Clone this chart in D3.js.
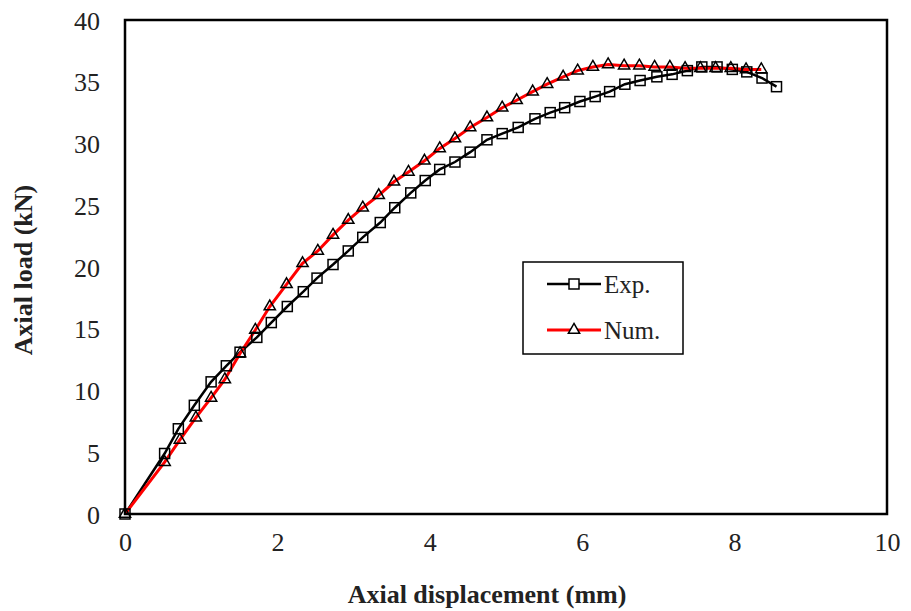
<!DOCTYPE html>
<meta charset="utf-8">
<style>
    body { margin: 0; background: white; }
</style>
<body>
<script src="https://d3js.org/d3.v7.min.js"></script>
<script>
    var width = 911,
        height = 611;
    var serif = "'Times New Roman', 'Liberation Serif', Tinos, serif";

    // experimental curve: [displacement mm, load kN]
    var expData = [
        [0, 0], [0.52, 4.9], [0.70, 6.9], [0.91, 8.8], [1.13, 10.7], [1.33, 12.0],
        [1.51, 13.1], [1.73, 14.3], [1.92, 15.5], [2.13, 16.8], [2.34, 18.0], [2.52, 19.1],
        [2.73, 20.2], [2.93, 21.3], [3.12, 22.4], [3.35, 23.6], [3.54, 24.8], [3.75, 26.0],
        [3.94, 27.0], [4.13, 27.9], [4.33, 28.5], [4.53, 29.3], [4.75, 30.3], [4.95, 30.8],
        [5.16, 31.3], [5.38, 32.0], [5.58, 32.5], [5.77, 32.9], [5.97, 33.4], [6.17, 33.8],
        [6.36, 34.2], [6.56, 34.8], [6.76, 35.1], [6.98, 35.4], [7.18, 35.6], [7.38, 35.9],
        [7.57, 36.2], [7.77, 36.2], [7.97, 36.0], [8.16, 35.8], [8.36, 35.3], [8.55, 34.6]
    ];

    // numerical curve
    var numData = [
        [0, 0], [0.52, 4.2], [0.72, 6.0], [0.93, 7.8], [1.13, 9.4], [1.31, 10.9],
        [1.51, 13.0], [1.71, 14.9], [1.90, 16.8], [2.12, 18.6], [2.33, 20.3], [2.53, 21.3],
        [2.73, 22.6], [2.93, 23.8], [3.12, 24.8], [3.33, 25.8], [3.53, 26.9], [3.72, 27.7],
        [3.93, 28.6], [4.13, 29.6], [4.33, 30.4], [4.53, 31.3], [4.75, 32.1], [4.95, 32.9],
        [5.14, 33.5], [5.35, 34.2], [5.54, 34.8], [5.75, 35.4], [5.94, 35.9], [6.14, 36.2],
        [6.34, 36.4], [6.55, 36.3], [6.75, 36.3], [6.95, 36.2], [7.15, 36.2], [7.35, 36.1],
        [7.55, 36.1], [7.75, 36.1], [7.95, 36.1], [8.15, 36.0], [8.35, 36.0]
    ];

    var xTicks = [0, 2, 4, 6, 8, 10];
    var yTicks = [0, 5, 10, 15, 20, 25, 30, 35, 40];
    var seriesNames = ["Exp.", "Num."];

    var x = d3.scaleLinear().domain([0, 10]).range([125, 887]);
    var y = d3.scaleLinear().domain([0, 40]).range([514, 20]);

    var svg = d3.select("body").append("svg")
        .attr("width", width)
        .attr("height", height)
        .style("font-family", serif);

    // y tick labels
    svg.append("g")
        .attr("transform", "translate(" + x(0) + ",0)")
        .call(d3.axisLeft(y).tickValues(yTicks).tickSize(0).tickPadding(25))
        .call(function(g) { g.select(".domain").remove(); })
        .attr("font-family", null)
        .selectAll("text")
        .style("font-family", serif)
        .style("font-size", "26px")
        .attr("fill", "#222")
        .attr("dy", "0.35em");

    // x tick labels
    svg.append("g")
        .attr("transform", "translate(0," + y(0) + ")")
        .call(d3.axisBottom(x).tickValues(xTicks).tickSize(0).tickPadding(19))
        .call(function(g) { g.select(".domain").remove(); })
        .attr("font-family", null)
        .selectAll("text")
        .style("font-family", serif)
        .style("font-size", "26px")
        .attr("fill", "#222");

    var line = d3.line()
        .x(function(d) { return x(d[0]); })
        .y(function(d) { return y(d[1]); });

    svg.append("path")
        .datum(expData)
        .attr("d", line)
        .attr("fill", "none")
        .attr("stroke", "black")
        .attr("stroke-width", 2.5);

    svg.append("path")
        .datum(numData)
        .attr("d", line)
        .attr("fill", "none")
        .attr("stroke", "#ff0000")
        .attr("stroke-width", 3);

    var tri = d3.symbol().type(d3.symbolTriangle).size(55);

    svg.selectAll(".tri")
        .data(numData)
        .enter().append("path")
        .attr("class", "tri")
        .attr("d", tri)
        .attr("transform", function(d) { return "translate(" + x(d[0]) + "," + y(d[1]) + ")"; })
        .attr("fill", "none")
        .attr("stroke", "black")
        .attr("stroke-width", 1.5);

    svg.selectAll(".sq")
        .data(expData)
        .enter().append("rect")
        .attr("class", "sq")
        .attr("x", function(d) { return x(d[0]) - 5; })
        .attr("y", function(d) { return y(d[1]) - 5; })
        .attr("width", 10)
        .attr("height", 10)
        .attr("fill", "none")
        .attr("stroke", "black")
        .attr("stroke-width", 1.5);

    // plot frame
    svg.append("rect")
        .attr("x", x(0))
        .attr("y", y(40))
        .attr("width", x(10) - x(0))
        .attr("height", y(0) - y(40))
        .attr("fill", "none")
        .attr("stroke", "black")
        .attr("stroke-width", 2.5);

    // axis titles
    svg.append("text")
        .attr("x", 487)
        .attr("y", 603)
        .attr("text-anchor", "middle")
        .style("font-family", serif)
        .style("font-size", "26px")
        .style("font-weight", "bold")
        .attr("fill", "#222")
        .text("Axial displacement (mm)");

    svg.append("text")
        .attr("transform", "translate(32,270) rotate(-90)")
        .attr("text-anchor", "middle")
        .style("font-family", serif)
        .style("font-size", "26px")
        .style("font-weight", "bold")
        .attr("fill", "#222")
        .text("Axial load (kN)");

    // legend
    var legend = svg.append("g").attr("transform", "translate(523,262)");
    legend.append("rect")
        .attr("width", 160).attr("height", 92)
        .attr("fill", "white").attr("stroke", "black").attr("stroke-width", 1.5);

    var colors = ["black", "#ff0000"];
    seriesNames.forEach(function(name, i) {
        var ly = 22 + i * 46;
        legend.append("line")
            .attr("x1", 24).attr("x2", 78).attr("y1", ly).attr("y2", ly)
            .attr("stroke", colors[i]).attr("stroke-width", i ? 3 : 2.5);
        if (i === 0) {
            legend.append("rect")
                .attr("x", 46).attr("y", ly - 5).attr("width", 10).attr("height", 10)
                .attr("fill", "white").attr("stroke", "black").attr("stroke-width", 1.5);
        } else {
            legend.append("path")
                .attr("d", tri)
                .attr("transform", "translate(51," + ly + ")")
                .attr("fill", "white").attr("stroke", "black").attr("stroke-width", 1.5);
        }
        legend.append("text")
            .attr("x", 81).attr("y", ly)
            .attr("dy", "0.35em")
            .style("font-family", serif)
            .style("font-size", "25px")
            .attr("fill", "#222")
            .text(name);
    });
</script>
</body>
